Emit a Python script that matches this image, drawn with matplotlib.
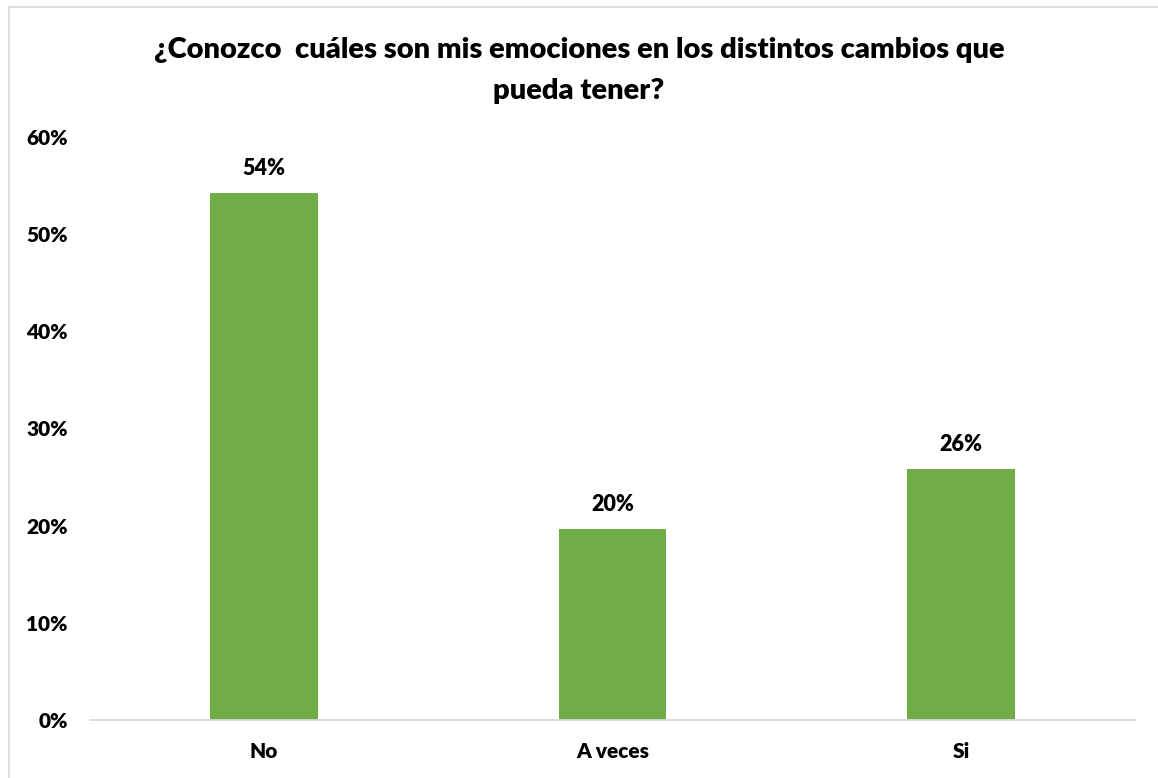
import matplotlib.pyplot as plt
from matplotlib.ticker import PercentFormatter
from matplotlib.lines import Line2D

categories = ["No", "A veces", "Si"]
values = [54.2, 19.7, 25.8]
labels = ["54%", "20%", "26%"]
yticks = [0, 10, 20, 30, 40, 50, 60]

plt.rcParams['font.family'] = ['Lato', 'DejaVu Sans']

fig = plt.figure(figsize=(11.58, 7.78), dpi=100)
ax = fig.add_axes([90 / 1158, 1 - 720 / 778, 1045 / 1158, 583 / 778])

x = range(len(categories))
bars = ax.bar(x, values, width=0.31, color="#70AD47")

for b, lab in zip(bars, labels):
    ax.annotate(lab, (b.get_x() + b.get_width() / 2, b.get_height()),
                xytext=(0, 13), textcoords="offset points",
                ha="center", va="baseline", fontsize=15.5, fontweight="heavy")

ax.set_xlim(-0.5, 2.5)
ax.set_ylim(0, 60)
ax.set_yticks(yticks)
ax.yaxis.set_major_formatter(PercentFormatter(decimals=0))
ax.set_xticks(list(x))
ax.set_xticklabels(categories)
ax.tick_params(axis="both", length=0, labelsize=15)
ax.tick_params(axis="y", pad=16)
ax.tick_params(axis="x", pad=16)
for lab in ax.get_xticklabels() + ax.get_yticklabels():
    lab.set_fontweight("heavy")

for s in ["top", "right", "left"]:
    ax.spines[s].set_visible(False)
ax.spines["bottom"].set_color("#D9D9D9")
ax.spines["bottom"].set_linewidth(1.3)

fig.text(0.5, 0.953, "¿Conozco  cuáles son mis emociones en los distintos cambios que\npueda tener?",
         ha="center", va="top", fontsize=21, fontweight="heavy", linespacing=1.75)

# light chart border (left and top edges visible)
fig.add_artist(Line2D([9 / 1158, 9 / 1158], [0, 1 - 7 / 778], transform=fig.transFigure,
                      color="#D9D9D9", lw=1.2))
fig.add_artist(Line2D([9 / 1158, 1], [1 - 7 / 778, 1 - 7 / 778], transform=fig.transFigure,
                      color="#D9D9D9", lw=1.2))

fig.savefig("out.png", dpi=100, facecolor="white")
